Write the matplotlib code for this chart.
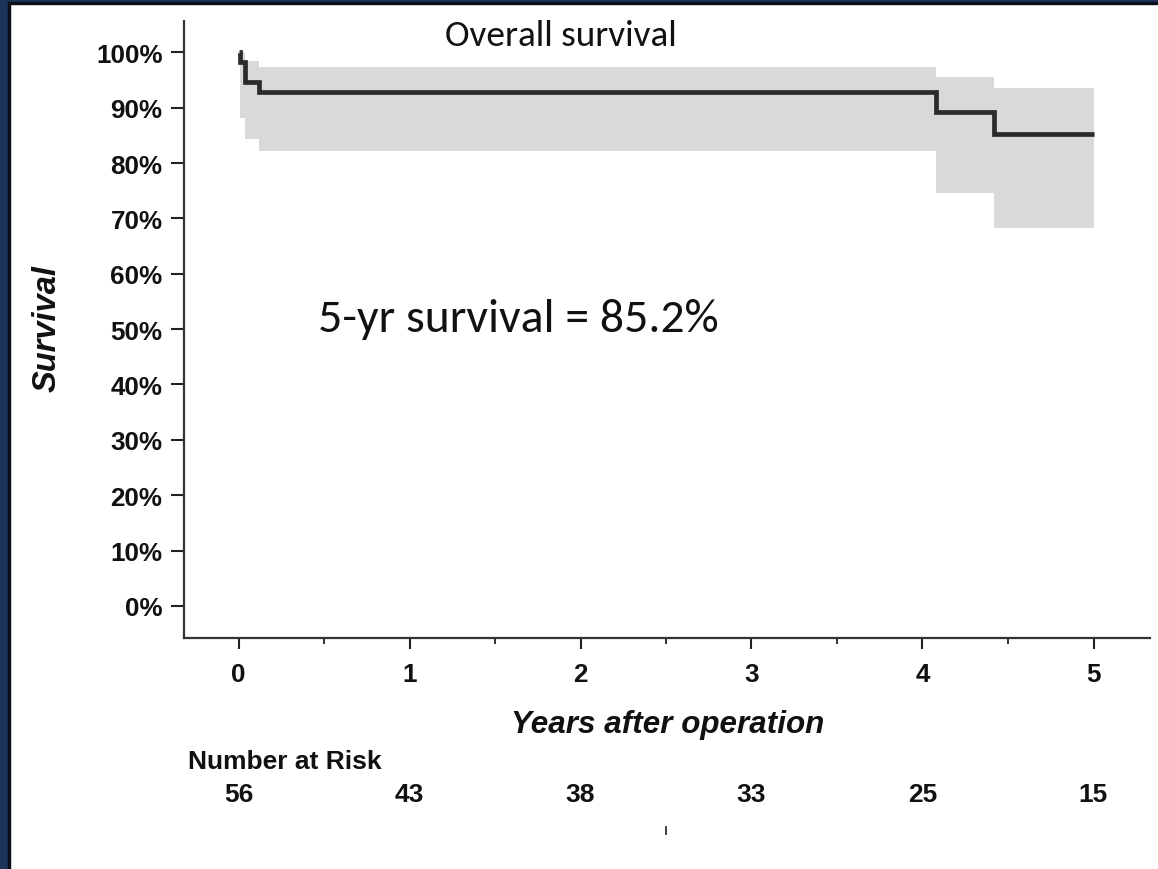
import matplotlib
matplotlib.use("Agg")
import matplotlib.pyplot as plt
import matplotlib.transforms as mtransforms
from matplotlib.patches import Rectangle
from matplotlib.ticker import FixedLocator, FuncFormatter

# ---------------- data ----------------
km_times = [0.0, 0.007, 0.04, 0.117, 4.08, 4.42, 5.0]
km_surv = [100.0, 98.2, 94.6, 92.9, 89.2, 85.2, 85.2]

ci_times = [0.007, 0.04, 0.117, 4.08, 4.42, 5.0]
ci_upper = [100.0, 98.4, 97.3, 95.6, 93.5, 93.5]
ci_lower = [88.2, 84.4, 82.1, 74.6, 68.3, 68.3]

x_ticks = [0, 1, 2, 3, 4, 5]
y_ticks = [0, 10, 20, 30, 40, 50, 60, 70, 80, 90, 100]
risk_years = [0, 1, 2, 3, 4, 5]
risk_numbers = [56, 43, 38, 33, 25, 15]

title_text = "Overall survival"
note_text = "5-yr survival = 85.2%"

# ---------------- figure ----------------
W, H = 1158, 870
fig = plt.figure(figsize=(W / 100, H / 100), dpi=100)
fig.patch.set_facecolor("white")

def px(x, y):
    return x / W, 1 - y / H

arial = ["Liberation Sans", "DejaVu Sans"]
calibri = ["Carlito", "Lato", "DejaVu Sans"]

# slide frame (left and top navy strips)
navy = "#1d3358"
fig.patches.append(Rectangle((0, 0), 8 / W, 1, transform=fig.transFigure, color=navy, zorder=0))
fig.patches.append(Rectangle((8 / W, 0), 1.5 / W, 1, transform=fig.transFigure, color="#0a0f1a", zorder=0))
fig.patches.append(Rectangle((0, 1 - 3 / H), 1, 3 / H, transform=fig.transFigure, color=navy, zorder=0))
fig.patches.append(Rectangle((8 / W, 1 - 4.5 / H), 1, 1.5 / H, transform=fig.transFigure, color="#0a0f1a", zorder=0))

left, right, top, bottom = 184, 1150, 22, 639
ax = fig.add_axes([left / W, 1 - bottom / H, (right - left) / W, (bottom - top) / H])

x0_px, per_year = 238.5, 171.0
ax.set_xlim((left - x0_px) / per_year, (right - x0_px) / per_year)
y100_px, per10 = 53.3, 55.36
y0_px = y100_px + 10 * per10
ax.set_ylim(-(bottom - y0_px) / per10 * 10, 100 + (y100_px - top) / per10 * 10)

# CI band
ax.fill_between(ci_times, ci_lower, ci_upper, step="post", color="#d9d9d9", linewidth=0, zorder=1)
# KM curve
ax.step(km_times, km_surv, where="post", color="#2b2b2b", linewidth=3.4, zorder=3,
        solid_joinstyle="miter", solid_capstyle="butt")

# spines
for s in ["top", "right"]:
    ax.spines[s].set_visible(False)
for s in ["left", "bottom"]:
    ax.spines[s].set_color("#333333")
    ax.spines[s].set_linewidth(1.6)

ax.xaxis.set_major_locator(FixedLocator(x_ticks))
ax.xaxis.set_minor_locator(FixedLocator([t + 0.5 for t in x_ticks[:-1]]))
ax.yaxis.set_major_locator(FixedLocator(y_ticks))
ax.yaxis.set_major_formatter(FuncFormatter(lambda v, p: f"{int(v)}%"))

ax.tick_params(axis="y", which="major", length=9.5, width=1.5, color="#222222", pad=6)
ax.tick_params(axis="x", which="major", length=8, width=1.5, color="#222222", pad=9)
ax.tick_params(axis="x", which="minor", length=4.5, width=1.3, color="#222222")
for lab in ax.get_xticklabels() + ax.get_yticklabels():
    lab.set_fontfamily(arial)
    lab.set_fontweight("bold")
    lab.set_fontsize(18.7)
    lab.set_color("#111111")

# axis titles
fx, fy = px(47, 329)
fig.text(fx, fy, "Survival", rotation=90, ha="center", va="center",
         family=arial, weight="bold", style="italic", fontsize=23.5, color="#111111")
fx, fy = px(668, 725)
fig.text(fx, fy, "Years after operation", ha="center", va="center",
         family=arial, weight="bold", style="italic", fontsize=22.6, color="#111111")

# number at risk
fx, fy = px(188, 762)
fig.text(fx, fy, "Number at Risk", ha="left", va="center",
         family=arial, weight="bold", fontsize=19, color="#111111")
blend = mtransforms.blended_transform_factory(ax.transData, fig.transFigure)
for yr, n in zip(risk_years, risk_numbers):
    ax.text(yr, 1 - 795 / H, str(n), transform=blend, ha="center", va="center",
            family=arial, weight="bold", fontsize=19, color="#111111", clip_on=False)

# stray small mark below the table
ax.plot([2.5, 2.5], [1 - 828 / H, 1 - 835 / H], transform=blend, color="#333333",
        linewidth=1.3, clip_on=False)

# annotations
fx, fy = px(561, 36)
fig.text(fx, fy, title_text, ha="center", va="center", family=calibri, fontsize=26.8, color="#111111")
fx, fy = px(518.5, 320)
fig.text(fx, fy, note_text, ha="center", va="center", family=calibri, fontsize=34.4, color="#111111")

fig.savefig("out.png", dpi=100, facecolor=fig.get_facecolor())
